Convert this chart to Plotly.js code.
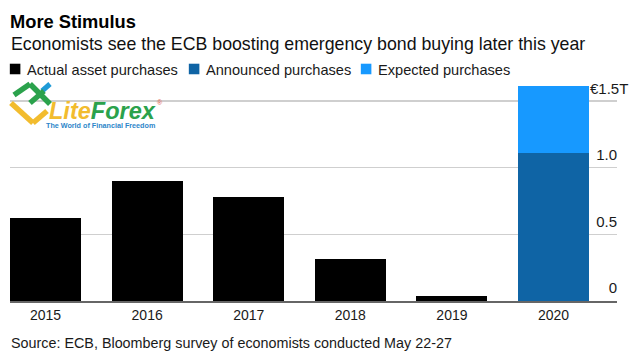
<!DOCTYPE html>
<html><head><meta charset="utf-8">
<script src="https://cdn.plot.ly/plotly-3.0.0.min.js"></script>
<style>html,body{margin:0;padding:0;background:#fff}</style></head>
<body><div id="c" style="width:632px;height:353px"></div>
<script>
const years = ["2015","2016","2017","2018","2019","2020"];
const actual = [0.623,0.90,0.78,0.315,0.035,null];
const announced = [null,null,null,null,null,1.11];
const expected = [null,null,null,null,null,0.50];
const tickVals = [0,0.5,1.0,1.5];
const tickLabels = ["0","0.5","1.0",""];
const FONT = "Liberation Sans, Arial, sans-serif";
const W=632,H=353;
const PL=10,PR=617,PT=81,PB=301;
const px=x=>(x-PL)/(PR-PL), py=y=>(PB-y)/(PB-PT);
function seg(x0,y0,x1,y1,color,w){return {type:'line',xref:'paper',yref:'paper',x0:px(x0),y0:py(y0),x1:px(x1),y1:py(y1),line:{color,width:w}};}
const logo=[
 seg(42,91,50,84,'#1f9bd7',5),
 seg(11,103,33,123,'#f2bc2e',5.5),
 seg(33,123,47,111,'#f2bc2e',5.5),
 seg(14,95,30,84,'#2ba24c',5.5),
 seg(30,84,50,104,'#2ba24c',5.5),
 seg(30,103,44,91,'#2ba24c',5.5)
];
const ann=(text,x,y,size,color,extra)=>Object.assign({text,xref:'paper',yref:'paper',x:px(x),y:py(y),xanchor:'left',yanchor:'middle',showarrow:false,font:{family:FONT,size,color}},extra||{});
const traces=[
 {type:'bar',name:'Actual asset purchases',x:years,y:actual,marker:{color:'#000000'},width:0.7},
 {type:'bar',name:'Announced purchases',x:years,y:announced,marker:{color:'#0f64a5'},width:0.7},
 {type:'bar',name:'Expected purchases',x:years,y:expected,marker:{color:'#1799ff'},width:0.7}
];
const layout={
 width:W,height:H,paper_bgcolor:'#fff',plot_bgcolor:'#fff',showlegend:true,barmode:'stack',
 margin:{l:PL,r:W-PR,t:PT,b:H-PB,autoexpand:false},
 font:{family:FONT,color:'#000'},
 title:{text:'<b>More Stimulus</b>',x:0,xanchor:'left',xref:'paper',y:1-22/H,yanchor:'middle',font:{family:FONT,size:18.3,color:'#000'}},
 legend:{orientation:'h',x:px(-13),xanchor:'left',y:py(69),yanchor:'middle',font:{family:FONT,size:14.6,color:'#1a1a1a'},traceorder:'normal',itemclick:false,bgcolor:'rgba(0,0,0,0)'},
 xaxis:{type:'category',range:[-0.35,5.625],showgrid:false,showline:true,linecolor:'#666',linewidth:2,ticks:'',tickfont:{family:FONT,size:14,color:'#1a1a1a'},fixedrange:true},
 yaxis:{side:'right',range:[0,1.65],tickmode:'array',tickvals:tickVals,ticktext:tickLabels,ticklabelposition:'inside',ticklabelshift:-13,ticklabelstandoff:-3,showgrid:true,gridcolor:'#cfcfcf',gridwidth:1.5,zeroline:false,ticks:'',tickfont:{family:FONT,size:15,color:'#1a1a1a'},fixedrange:true},
 shapes:logo,
 annotations:[
  ann('Economists see the ECB boosting emergency bond buying later this year',9,44,17.75,'#111'),
  ann('Source: ECB, Bloomberg survey of economists conducted May 22-27',9,343,14.35,'#1a1a1a'),
  {text:'€1.5T',xref:'paper',yref:'y',x:px(630),y:1.5,yshift:13,xanchor:'right',yanchor:'middle',showarrow:false,font:{family:FONT,size:15,color:'#1a1a1a'}},
  ann('<b><i><span style="color:#f2bc2e">Lite</span><span style="color:#2ba24c">Forex</span></i></b>',47,111,23.5,'#2ba24c'),
  ann('®',155,102,7,'#e05a4e'),
  ann('<b>The World of Financial Freedom</b>',44,125,7.2,'#2d86c9')
 ]
};
const legendTextX=[27,206,378];
Plotly.newPlot('c',traces,layout,{displayModeBar:false,staticPlot:true}).then(()=>{
 const items=[...document.querySelectorAll('.legend .traces')];
 const t0=items.map(g=>+/translate\(([-\d.]+)/.exec(g.getAttribute('transform'))[1]);
 const y0=items.map(g=>/translate\([-\d.]+[ ,]+([-\d.]+)/.exec(g.getAttribute('transform'))[1]);
 const legend=document.querySelector('.legend');
 const clip=document.querySelector('.legend .scrollbox');
 if(clip) clip.removeAttribute('clip-path');
 items.forEach((g,i)=>{
  g.setAttribute('transform',`translate(${t0[0]+legendTextX[i]-legendTextX[0]},${y0[i]})`);
  g.querySelector('.legendsymbols').setAttribute('transform','translate(10.5,0) scale(0.88)');
 });
});
</script></body></html>
